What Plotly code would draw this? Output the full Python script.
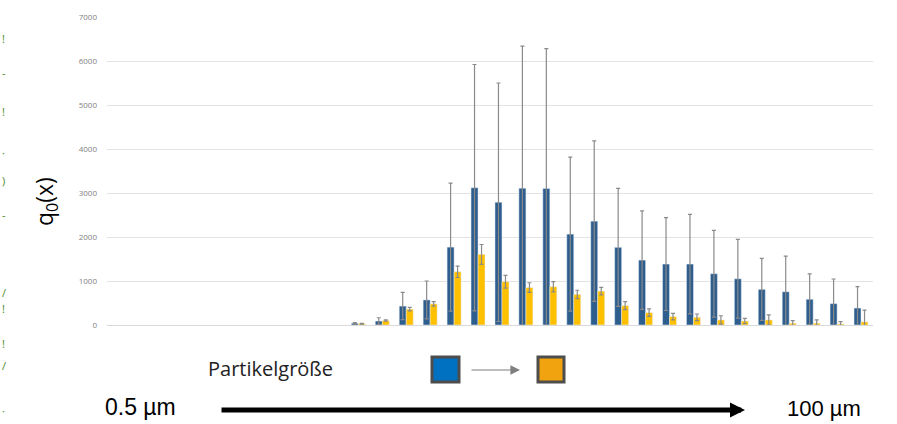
import plotly.graph_objects as go

# ---- data ----
size_classes = [f"K{i}" for i in range(1, 33)]
before = [None, None, None, None, None, None, None, None, None, None,
          40, 90, 430, 570, 1770, 3120, 2790, 3110, 3105, 2065, 2360,
          1765, 1475, 1385, 1385, 1165, 1050, 810, 755, 585, 485, 385]
before_err = [None, None, None, None, None, None, None, None, None, None,
              15, 75, 310, 430, 1455, 2800, 2710, 3230, 3175, 1750, 1825,
              1340, 1120, 1055, 1130, 985, 895, 705, 810, 575, 560, 485]
after = [None, None, None, None, None, None, None, None, None, None,
         30, 100, 360, 480, 1210, 1605, 985, 850, 870, 695, 770,
         440, 280, 190, 175, 115, 90, 115, 40, 40, 25, 70]
after_err = [None, None, None, None, None, None, None, None, None, None,
             10, 15, 40, 50, 130, 225, 145, 110, 115, 95, 85,
             90, 85, 75, 75, 95, 60, 115, 60, 75, 50, 270]
y_ticks = [0, 1000, 2000, 3000, 4000, 5000, 6000, 7000]

W, H = 897, 424
L, R, T, B = 107, 24, 17, 99
PW, PH = W - L - R, H - T - B


def px(x):
    return (x - L) / PW


def py(y):
    return (H - B - y) / PH


err_style = dict(type="data", visible=True, color="#8a8a8a", thickness=1.2, width=2)

fig = go.Figure()
fig.add_trace(go.Bar(x=size_classes, y=before, marker_color="#2E5E8E",
                     error_y=dict(array=before_err, **err_style), name="vorher"))
fig.add_trace(go.Bar(x=size_classes, y=after, marker_color="#FFC000",
                     error_y=dict(array=after_err, **err_style), name="nachher"))

fig.update_layout(
    width=W, height=H,
    margin=dict(l=L, r=R, t=T, b=B),
    paper_bgcolor="white", plot_bgcolor="white",
    barmode="group", bargap=0.415, bargroupgap=0,
    showlegend=False,
    font=dict(family="Open Sans, sans-serif"),
)
fig.update_xaxes(showticklabels=False, showgrid=False, zeroline=False, showline=False,
                 ticks="")
fig.update_yaxes(range=[0, 7000], tickvals=y_ticks, showgrid=True, gridcolor="#e3e3e3",
                 gridwidth=1.2, zeroline=True, zerolinecolor="#d9d9d9", zerolinewidth=1.2,
                 showline=False, ticks="", ticklabelstandoff=9,
                 tickfont=dict(size=8, color="#7f7f7f", family="Open Sans, sans-serif"))

ann = []
# y title
ann.append(dict(text="q<sub>0</sub>(x)", xref="paper", yref="paper", x=px(45), y=py(202),
                showarrow=False, textangle=-90, font=dict(size=23, color="black",
                family="Open Sans, sans-serif"), xanchor="center", yanchor="middle"))
# bottom labels
ann.append(dict(text="Partikelgröße", xref="paper", yref="paper", x=px(206), y=py(368),
                showarrow=False, xanchor="left", yanchor="middle",
                font=dict(size=20, color="#222222", family="Open Sans, sans-serif")))
ann.append(dict(text="0.5 µm", xref="paper", yref="paper", x=px(103), y=py(407),
                showarrow=False, xanchor="left", yanchor="middle",
                font=dict(size=23, color="black", family="Liberation Sans, Arial")))
ann.append(dict(text="100 µm", xref="paper", yref="paper", x=px(785), y=py(408),
                showarrow=False, xanchor="left", yanchor="middle",
                font=dict(size=22, color="black", family="Liberation Sans, Arial")))
# big black arrow
ann.append(dict(text="", xref="paper", yref="paper", x=px(745), y=py(410),
                ax=-(745 - 220), ay=0, axref="pixel", ayref="pixel",
                showarrow=True, arrowhead=2, arrowsize=0.6, arrowwidth=5,
                arrowcolor="black"))
# small gray arrow
ann.append(dict(text="", xref="paper", yref="paper", x=px(520), y=py(370),
                ax=-(520 - 470), ay=0, axref="pixel", ayref="pixel",
                showarrow=True, arrowhead=2, arrowsize=1.6, arrowwidth=1.2,
                arrowcolor="#7f7f7f"))
# fragments of green text at the left edge
for ch, yy in [("!", 38), ("-", 72), ("!", 111), ("·", 152), (")", 180),
               ("-", 214), ("/", 292), ("!", 308), ("!", 343), ("/", 365), ("·", 410)]:
    ann.append(dict(text=ch, xref="paper", yref="paper", x=px(0), y=py(yy),
                    showarrow=False, xanchor="left", yanchor="middle",
                    font=dict(size=11, color="#4e8b2a", family="Open Sans, sans-serif")))
fig.update_layout(annotations=ann)

shapes = []
for x0, x1, col in [(432, 459, "#0070C0"), (538, 564, "#F0A30E")]:
    shapes.append(dict(type="rect", xref="paper", yref="paper",
                       x0=px(x0), x1=px(x1), y0=py(382), y1=py(357),
                       fillcolor=col, line=dict(color="#4d4d4d", width=3)))
fig.update_layout(shapes=shapes)

fig.write_html("out.html", config={"displayModeBar": False},
               post_script="document.body.style.margin='0';document.body.style.padding='0';")
